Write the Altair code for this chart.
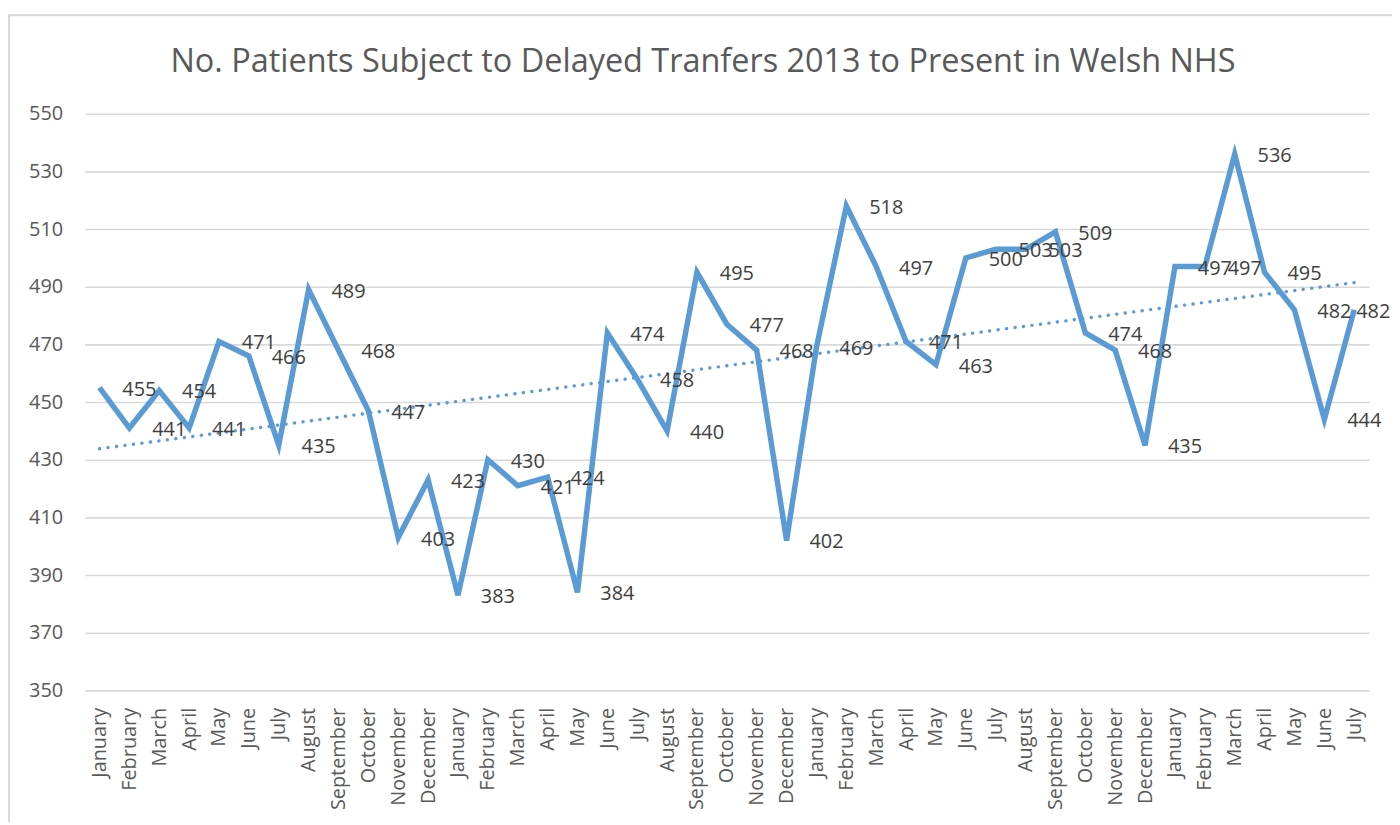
import altair as alt
import pandas as pd

title_text = "No. Patients Subject to Delayed Tranfers 2013 to Present in Welsh NHS"

month_names = ["January", "February", "March", "April", "May", "June", "July",
               "August", "September", "October", "November", "December"]
years = [2013, 2014, 2015, 2016]

month_labels = (month_names * 3) + month_names[:7]

patients = [455, 441, 454, 441, 471, 466, 435, 489, 468, 447, 403, 423,
            383, 430, 421, 424, 384, 474, 458, 440, 495, 477, 468, 402,
            469, 518, 497, 471, 463, 500, 503, 503, 509, 474, 468, 435,
            497, 497, 536, 495, 482, 444, 482]

y_ticks = [350, 370, 390, 410, 430, 450, 470, 490, 510, 530, 550]

df = pd.DataFrame({
    "idx": list(range(len(patients))),
    "month": month_labels,
    "value": patients,
})

FONT = "Open Sans"
LINE_COLOR = "#5B9BD5"
LAST = len(patients) - 1

label_array = "[" + ",".join("'" + m + "'" for m in month_labels) + "]"

x_axis = alt.Axis(
    values=list(range(len(patients))),
    labelExpr=label_array + "[datum.value]",
    labelAngle=270,
    labelAlign="right",
    labelBaseline="middle",
    labelPadding=17,
    labelFontSize=20,
    labelColor="#595959",
    labelFont=FONT,
    labelOverlap=False,
    labelBound=False,
    labelFlush=False,
    ticks=False,
    domain=False,
    grid=False,
    title=None,
)
x_scale = alt.Scale(domain=[-0.5, len(patients) - 0.5], nice=False, zero=False)

y_axis = alt.Axis(
    values=y_ticks,
    labelFontSize=20,
    labelColor="#595959",
    labelFont=FONT,
    labelPadding=22,
    ticks=False,
    domain=False,
    grid=True,
    gridColor="#d9d9d9",
    gridWidth=1.6,
    title=None,
)
y_scale = alt.Scale(domain=[350, 550], nice=False, zero=False)


def xe():
    return alt.X("idx:Q", scale=x_scale, axis=x_axis)


def ye():
    return alt.Y("value:Q", scale=y_scale, axis=y_axis)


base = alt.Chart(df)

line = base.mark_line(color=LINE_COLOR, strokeWidth=5.5, strokeJoin="miter").encode(
    x=xe(), y=ye()
)

trend = base.transform_regression(
    "idx", "value", extent=[0, LAST]
).mark_line(
    color=LINE_COLOR, strokeWidth=3.4, strokeDash=[0.1, 8.5], strokeCap="round"
).encode(x=xe(), y=ye())

labels = base.transform_filter(f"datum.idx < {LAST}").mark_text(
    align="left", baseline="middle", dx=23, dy=2, fontSize=20, font=FONT, color="#404040"
).encode(x=xe(), y=ye(), text="value:Q")

# Last label is pulled inside the chart area, as the spreadsheet does
last_label = base.transform_filter(f"datum.idx == {LAST}").mark_text(
    align="left", baseline="middle", dx=2, dy=2, fontSize=20, font=FONT, color="#404040"
).encode(x=xe(), y=ye(), text="value:Q")

frame = alt.Chart(pd.DataFrame({"a": [0]})).mark_rect(
    filled=False, stroke="#d9d9d9", strokeWidth=2
).encode(
    x=alt.value(-76), y=alt.value(-99), x2=alt.value(1400), y2=alt.value(900)
)

chart = alt.layer(frame, trend, line, labels, last_label).properties(
    width=1292,
    height=580,
    autosize=alt.AutoSizeParams(type="none"),
    padding={"left": 77, "top": 104, "right": 23, "bottom": 130},
    title=alt.TitleParams(
        title_text,
        fontSize=32.6,
        font=FONT,
        fontWeight="normal",
        color="#595959",
        anchor="middle",
        frame="group",
        dx=-24,
        offset=-65,
    ),
).configure_view(stroke=None)

chart.save("out.html", embed_options={"renderer": "svg", "actions": False})
